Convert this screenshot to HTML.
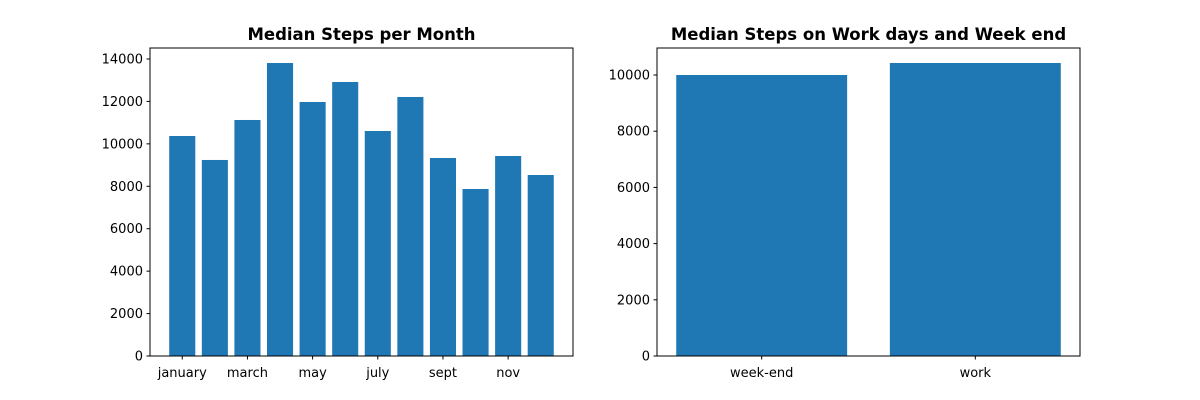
<!DOCTYPE html>
<html><head><meta charset="utf-8"><style>body{margin:0;background:#fff}svg{display:block;font-family:"DejaVu Sans","Liberation Sans",sans-serif}</style></head>
<body>
<svg id="c" width="1200" height="400" xmlns="http://www.w3.org/2000/svg"></svg>
<script>
const monthCats = ["january","feb","march","april","may","june","july","aug","sept","oct","nov","dec"];
const monthVals = [10370,9240,11125,13810,11973,12915,10606,12209,9333,7872,9427,8532];
const monthTickLabels = ["january","march","may","july","sept","nov"];
const monthYTicks = [0,2000,4000,6000,8000,10000,12000,14000];
const dayCats = ["week-end","work"];
const dayVals = [10000,10427];
const dayYTicks = [0,2000,4000,6000,8000,10000];

const svg = document.getElementById('c');
const NS = "http://www.w3.org/2000/svg";
function mk(tag, attrs, parent){const e=document.createElementNS(NS,tag);for(const k in attrs)e.setAttribute(k,attrs[k]);(parent||svg).appendChild(e);return e;}

function panel(name, x0, x1, y0, y1, cats, vals, ymax, yticks, xTickIdx, xTickLabels, title){
  const g = mk('g',{});
  
  
  const n = cats.length;
  const lo = -0.4 - 0.05*(n-1+0.8), hi = n-1+0.4 + 0.05*(n-1+0.8);
  const xs = v => x0 + (v-lo)/(hi-lo)*(x1-x0);
  const ys = v => y1 - v/ymax*(y1-y0);
  vals.forEach((v,i)=>{
    const r = mk('rect',{x:xs(i-0.4),y:ys(v),width:xs(i+0.4)-xs(i-0.4),height:ys(0)-ys(v),fill:'#1f77b4'},g);
    
    
  });
  const fr = mk('rect',{x:x0,y:y0,width:x1-x0,height:y1-y0,fill:'none',stroke:'#000','stroke-width':1},g);
  
  
  yticks.forEach(t=>{
    const y = ys(t);
    mk('line',{x1:x0-3.5,x2:x0,y1:y,y2:y,stroke:'#000'},g);
    const tx = mk('text',{x:x0-7,y:y+4.5,'text-anchor':'end','font-size':13},g);
    tx.textContent = t;
    
    
  });
  xTickIdx.forEach((idx,j)=>{
    const x = xs(idx);
    mk('line',{x1:x,x2:x,y1:y1,y2:y1+3.5,stroke:'#000'},g);
    const tx = mk('text',{x:x,y:y1+21,'text-anchor':'middle','font-size':13},g);
    tx.textContent = xTickLabels[j];
    
    
  });
  const tt = mk('text',{x:(x0+x1)/2,y:y0-8,'text-anchor':'middle','font-size':16.5,'font-weight':'bold'},g);
  tt.textContent = title;
  
  
}
panel('month-panel',150,573,48,356,monthCats,monthVals,14518,monthYTicks,
  monthTickLabels.map(l=>monthCats.indexOf(l)),monthTickLabels,'Median Steps per Month');
panel('workday-panel',657,1080,48,356,dayCats,dayVals,10961,dayYTicks,
  [0,1],dayCats,'Median Steps on Work days and Week end');
</script>
</body></html>
